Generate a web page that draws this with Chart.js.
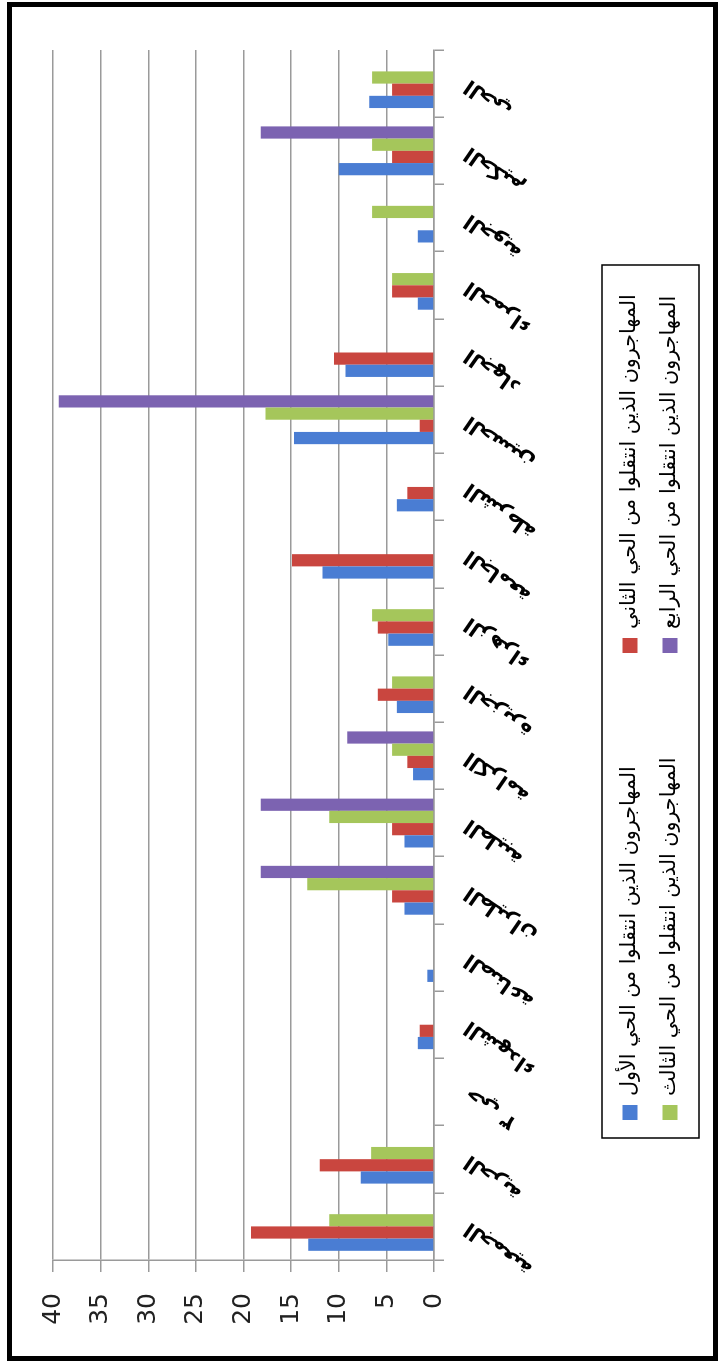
<!DOCTYPE html>
<html><head><meta charset="utf-8">
<script src="https://cdn.jsdelivr.net/npm/chart.js@4/dist/chart.umd.min.js"></script>
<style>
html,body{margin:0;padding:0;background:#fff;width:720px;height:1361px;overflow:hidden}
#rot{position:absolute;left:0;top:0;width:1361px;height:720px;transform-origin:0 0;transform:translate(0,1361px) rotate(-90deg);}
#frame{position:absolute;left:7px;top:2px;width:711px;height:1359px;border:5px solid #000;box-sizing:border-box;pointer-events:none}
</style></head><body>
<div id="rot"><canvas id="c" width="1361" height="720"></canvas></div>
<div id="frame"></div>
<script>
// categories in original left-to-right order (bottom to top on the rotated page)
const categories = ["الجمعية","الحرية","حي ٣","الشهداء","الصناعة","الطيران","الطيبة","الكرامة","الجزيرة","الزهراء","الجامعة","الشرطة","الحسين","الجهاد","الحمراء","الجوية","الحكيم","الحي"];
const seriesNames = [
  "المهاجرون الذين انتقلوا من الحي الأول",
  "المهاجرون الذين انتقلوا من الحي الثاني",
  "المهاجرون الذين انتقلوا من الحي الثالث",
  "المهاجرون الذين انتقلوا من الحي الرابع"
];
const firstQuarter  = [13.2, 7.7, 0, 1.7, 0.7, 3.1, 3.1, 2.2, 3.9, 4.8, 11.7, 3.9, 14.7, 9.3, 1.7, 1.7, 10.0, 6.8];
const secondQuarter = [19.2, 12.0, 0, 1.5, 0, 4.4, 4.4, 2.8, 5.9, 5.9, 14.9, 2.8, 1.5, 10.5, 4.4, 0, 4.4, 4.4];
const thirdQuarter  = [11.0, 6.6, 0, 0, 0, 13.3, 11.0, 4.4, 4.4, 6.5, 0, 0, 17.7, 0, 4.4, 6.5, 6.5, 6.5];
const fourthQuarter = [0, 0, 0, 0, 0, 18.2, 18.2, 9.1, 0, 0, 0, 0, 39.4, 0, 0, 0, 18.2, 0];
const valueTickStep = 5;
const valueMax = 40;
const colors = ["#4a7dd3", "#c9463f", "#a5c65b", "#7c63b1"];

const seriesValues = [firstQuarter, secondQuarter, thirdQuarter, fourthQuarter];

const boxLegend = {
  id: 'boxLegend',
  afterDraw(chart) {
    const ctx = chart.ctx;
    ctx.save();
    ctx.strokeStyle = '#000';
    ctx.lineWidth = 1.5;
    ctx.strokeRect(223, 602, 873, 97);
    ctx.font = '20px "DejaVu Sans"';
    const w = ctx.measureText(chart.data.datasets[0].label).width;
    const fs = 20 * 330 / w;
    ctx.font = fs.toFixed(2) + 'px "DejaVu Sans"';
    ctx.textBaseline = 'middle';
    ctx.textAlign = 'left';
    const colX = [241, 708];
    const rowY = [630, 670];
    chart.data.datasets.forEach((ds, i) => {
      const x = colX[i % 2], y = rowY[Math.floor(i / 2)];
      ctx.fillStyle = ds.backgroundColor;
      ctx.fillRect(x, y - 7.5, 15, 15);
      ctx.fillStyle = '#000';
      ctx.fillText(ds.label, x + 24, y);
    });
    ctx.restore();
  }
};

new Chart(document.getElementById('c'), {
  type: 'bar',
  data: {
    labels: categories,
    datasets: seriesValues.map((v, i) => ({
      label: seriesNames[i],
      data: v,
      backgroundColor: colors[i],
      borderWidth: 0,
      categoryPercentage: 0.727,
      barPercentage: 1.0
    }))
  },
  options: {
    responsive: false,
    animation: false,
    devicePixelRatio: 1,
    layout: { padding: { left: 31, right: 50, top: 53, bottom: 146 } },
    plugins: { legend: { display: false }, tooltip: { enabled: false } },
    scales: {
      x: {
        offset: true,
        grid: { display: true, drawOnChartArea: false, drawTicks: true, tickLength: 10, color: '#9a9a9a', lineWidth: 1.5, offset: true },
        border: { display: true, color: '#9a9a9a', width: 1.5 },
        ticks: { autoSkip: false, minRotation: 55, maxRotation: 55, color: '#000', padding: 16,
                 font: { family: 'DejaVu Sans', size: 21, weight: 'bold' } },
        afterFit(s) { s.height = 140; }
      },
      y: {
        min: 0, max: valueMax,
        ticks: { stepSize: valueTickStep, color: '#222', padding: 21, font: { family: 'DejaVu Sans', size: 25 } },
        grid: { color: '#9a9a9a', lineWidth: 1.5, tickLength: 12 },
        border: { color: '#9a9a9a', width: 1.5 },
        afterFit(s) { s.width = 70; }
      }
    }
  },
  plugins: [boxLegend]
});
</script>
</body></html>
